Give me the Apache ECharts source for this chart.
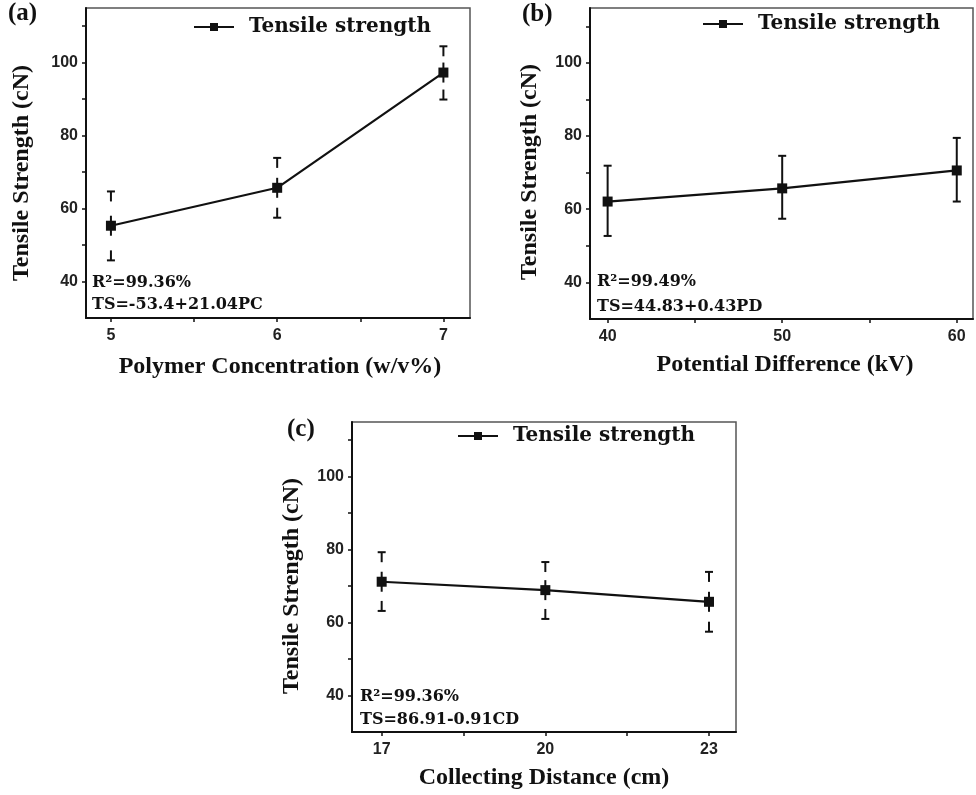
<html>
<head>
    <title>Tensile strength</title>
    <meta charset="utf-8">
    <style type="text/css">
        body { margin: 0; background: #fff; }
        #chart { width: 976px; height: 795px; }
    </style>
</head>
<body>
    <div id="chart"></div>
</body>
</html>

<script src="https://cdn.jsdelivr.net/npm/echarts@6/dist/echarts.min.js"></script>
<script>

    // (a) polymer concentration
    var pcX = [5, 6, 7];
    var pcMean = [55.3, 65.7, 97.3];
    var pcLow = [45.8, 57.5, 89.9];
    var pcHigh = [64.7, 73.9, 104.5];
    var pcTicks = [5, 5.5, 6, 6.5, 7];
    var pcLabels = [5, 6, 7];

    // (b) potential difference
    var pdX = [40, 50, 60];
    var pdMean = [62.1, 65.7, 70.6];
    var pdLow = [52.7, 57.4, 62.1];
    var pdHigh = [71.9, 74.6, 79.5];
    var pdTicks = [40, 45, 50, 55, 60];
    var pdLabels = [40, 50, 60];

    // (c) collecting distance
    var cdX = [17, 20, 23];
    var cdMean = [71.2, 68.9, 65.7];
    var cdLow = [63.2, 61.0, 57.5];
    var cdHigh = [79.3, 76.6, 73.9];
    var cdTicks = [17, 18.5, 20, 21.5, 23];
    var cdLabels = [17, 20, 23];

    var yTicks = [40, 50, 60, 70, 80, 90, 100, 110];
    var yLabels = [40, 60, 80, 100];

    var SERIF = "'Liberation Serif', 'Times New Roman', serif";
    var SLAB = "'DejaVu Serif', serif";
    var SANS = "'Liberation Sans', Arial, sans-serif";

    function pairs(xs, ys) {
        return xs.map((x, i) => [x, ys[i]]);
    }

    function errData(xs, lo, hi, mean) {
        return xs.map((x, i) => [x, lo[i], hi[i], mean[i]]);
    }

    // broken = caps with short stems plus a stub through the marker
    function errRender(broken) {
        return function (params, api) {
            var x = api.value(0);
            var pHi = api.coord([x, api.value(2)]);
            var pLo = api.coord([x, api.value(1)]);
            var pM = api.coord([x, api.value(3)]);
            var st = { stroke: '#111', lineWidth: 2 };
            var ln = (x1, y1, x2, y2) => ({ type: 'line', shape: { x1: x1, y1: y1, x2: x2, y2: y2 }, style: st });
            var kids = [
                ln(pHi[0] - 4, pHi[1], pHi[0] + 4, pHi[1]),
                ln(pLo[0] - 4, pLo[1], pLo[0] + 4, pLo[1])
            ];
            if (broken) {
                kids.push(ln(pHi[0], pHi[1], pHi[0], pHi[1] + 10));
                kids.push(ln(pLo[0], pLo[1] - 10, pLo[0], pLo[1]));
                kids.push(ln(pM[0], pM[1] - 10, pM[0], pM[1] + 10));
            } else {
                kids.push(ln(pHi[0], pHi[1], pLo[0], pLo[1]));
            }
            return { type: 'group', children: kids };
        };
    }

    function xAxis(idx, min, max, ticks, labels) {
        return {
            type: 'value', gridIndex: idx, min: min, max: max,
            axisLine: { show: true, onZero: false, lineStyle: { color: '#111', width: 2 } },
            axisTick: { show: true, inside: false, length: 4, customValues: ticks, lineStyle: { color: '#111', width: 1.5 } },
            axisLabel: { customValues: labels, margin: 10, color: '#222', fontFamily: SANS, fontWeight: 'bold', fontSize: 16 },
            splitLine: { show: false }
        };
    }

    function yAxis(idx) {
        return {
            type: 'value', gridIndex: idx, min: 30, max: 115,
            axisLine: { show: true, onZero: false, lineStyle: { color: '#111', width: 2 } },
            axisTick: { show: true, inside: false, length: 4, customValues: yTicks, lineStyle: { color: '#111', width: 1.5 } },
            axisLabel: { customValues: yLabels, margin: 8, color: '#222', fontFamily: SANS, fontWeight: 'bold', fontSize: 16 },
            splitLine: { show: false }
        };
    }

    function lineSeries(idx, xs, ys) {
        return {
            name: 'Tensile strength', type: 'line', xAxisIndex: idx, yAxisIndex: idx,
            data: pairs(xs, ys), symbol: 'rect', symbolSize: 10, z: 5,
            lineStyle: { color: '#111', width: 2.2 }, itemStyle: { color: '#111' }
        };
    }

    function errSeries(idx, xs, lo, hi, mean, broken) {
        return {
            type: 'custom', xAxisIndex: idx, yAxisIndex: idx, z: 4,
            data: errData(xs, lo, hi, mean), renderItem: errRender(broken),
            encode: { x: 0, y: [1, 2] }
        };
    }

    function legend(left, top) {
        return {
            left: left, top: top, data: ['Tensile strength'], itemWidth: 40, itemHeight: 10,
            selectedMode: false,
            textStyle: { fontFamily: SLAB, fontWeight: 'bold', fontSize: 20, color: '#111', padding: [0, 0, 0, 10] }
        };
    }

    function txt(text, x, y, font, align, rot) {
        return {
            type: 'text', x: x, y: y, rotation: rot || 0,
            style: { text: text, font: font, fill: '#111', align: align || 'left', verticalAlign: 'middle' }
        };
    }

    var titleFont = 'bold 24px ' + SERIF;
    var tagFont = 'bold 25px ' + SERIF;
    var eqFont = 'bold 16px ' + SLAB;

    var gridStyle = { show: true, borderColor: '#555', borderWidth: 1.5, backgroundColor: 'transparent' };

    var option = {
        animation: false,
        backgroundColor: '#fff',
        grid: [
            Object.assign({ left: 86, top: 8, width: 384, height: 310 }, gridStyle),
            Object.assign({ left: 590, top: 8, width: 383, height: 311 }, gridStyle),
            Object.assign({ left: 352, top: 422, width: 384, height: 310 }, gridStyle)
        ],
        xAxis: [
            xAxis(0, 4.85, 7.16, pcTicks, pcLabels),
            xAxis(1, 38.99, 60.93, pdTicks, pdLabels),
            xAxis(2, 16.456, 23.495, cdTicks, cdLabels)
        ],
        yAxis: [yAxis(0), yAxis(1), yAxis(2)],
        legend: [legend(188, 12), legend(697, 9), legend(452, 421)],
        series: [
            errSeries(0, pcX, pcLow, pcHigh, pcMean, true),
            lineSeries(0, pcX, pcMean),
            errSeries(1, pdX, pdLow, pdHigh, pdMean, false),
            lineSeries(1, pdX, pdMean),
            errSeries(2, cdX, cdLow, cdHigh, cdMean, true),
            lineSeries(2, cdX, cdMean)
        ],
        graphic: [
            txt('(a)', 8, 14, tagFont),
            txt('(b)', 522, 15, tagFont),
            txt('(c)', 287, 430, tagFont),

            txt('Tensile Strength (cN)', 22, 173, titleFont, 'center', Math.PI / 2),
            txt('Tensile Strength (cN)', 530, 172, titleFont, 'center', Math.PI / 2),
            txt('Tensile Strength (cN)', 292, 586, titleFont, 'center', Math.PI / 2),

            txt('Polymer Concentration (w/v%)', 280, 367, titleFont, 'center'),
            txt('Potential Difference (kV)', 785, 365, titleFont, 'center'),
            txt('Collecting Distance (cm)', 544, 778, titleFont, 'center'),

            txt('R²=99.36%', 92, 283, eqFont),
            txt('TS=-53.4+21.04PC', 92, 305, eqFont),
            txt('R²=99.49%', 597, 282, eqFont),
            txt('TS=44.83+0.43PD', 597, 307, eqFont),
            txt('R²=99.36%', 360, 697, eqFont),
            txt('TS=86.91-0.91CD', 360, 720, eqFont)
        ]
    };

    var chart = echarts.init(document.getElementById('chart'));
    chart.setOption(option);

</script>
